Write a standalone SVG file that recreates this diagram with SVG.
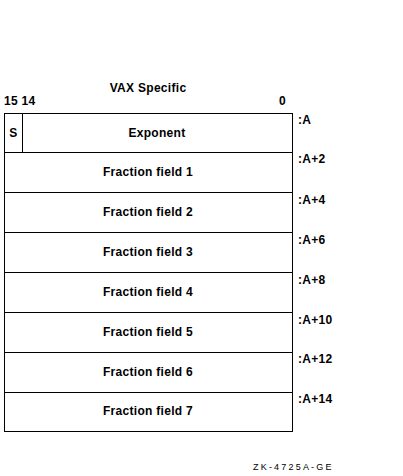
<svg xmlns="http://www.w3.org/2000/svg" width="403" height="476" viewBox="0 0 403 476">
<style>
text{font-family:"Liberation Sans",Arial,sans-serif;font-size:12px;font-weight:bold;letter-spacing:0.3px;fill:#000}
.c{text-anchor:middle}
.box{fill:#fff;stroke:#000;stroke-width:1}
</style>
<rect width="403" height="476" fill="#fff"/>
<g id="header">
<text class="c" x="148" y="92">VAX Specific</text>
<text x="4" y="105">15 14</text>
<text x="279" y="105">0</text>
</g>
<g id="row0">
<rect class="box" x="4.5" y="113.5" width="288" height="39"/>
<line x1="22.5" y1="113.5" x2="22.5" y2="152.5" stroke="#000"/>
<text class="c" x="13.5" y="137">S</text>
<text class="c" x="157" y="137">Exponent</text>
<text x="298" y="124">:A</text>
</g>
<g id="row1"><rect class="box" x="4.5" y="152.5" width="288" height="40"/><text class="c" x="148" y="176">Fraction field 1</text><text x="298" y="163">:A+2</text></g>
<g id="row2"><rect class="box" x="4.5" y="192.5" width="288" height="40"/><text class="c" x="148" y="216">Fraction field 2</text><text x="298" y="204">:A+4</text></g>
<g id="row3"><rect class="box" x="4.5" y="232.5" width="288" height="40"/><text class="c" x="148" y="256">Fraction field 3</text><text x="298" y="244">:A+6</text></g>
<g id="row4"><rect class="box" x="4.5" y="272.5" width="288" height="40"/><text class="c" x="148" y="296">Fraction field 4</text><text x="298" y="284">:A+8</text></g>
<g id="row5"><rect class="box" x="4.5" y="312.5" width="288" height="40"/><text class="c" x="148" y="336">Fraction field 5</text><text x="298" y="324">:A+10</text></g>
<g id="row6"><rect class="box" x="4.5" y="352.5" width="288" height="40"/><text class="c" x="148" y="376">Fraction field 6</text><text x="298" y="363">:A+12</text></g>
<g id="row7"><rect class="box" x="4.5" y="392.5" width="288" height="39"/><text class="c" x="148" y="415">Fraction field 7</text><text x="298" y="403">:A+14</text></g>
<g id="connectors"></g>
<text x="253" y="470" style="font-size:9px;font-weight:normal;letter-spacing:2.2px">ZK-4725A-GE</text>
</svg>
